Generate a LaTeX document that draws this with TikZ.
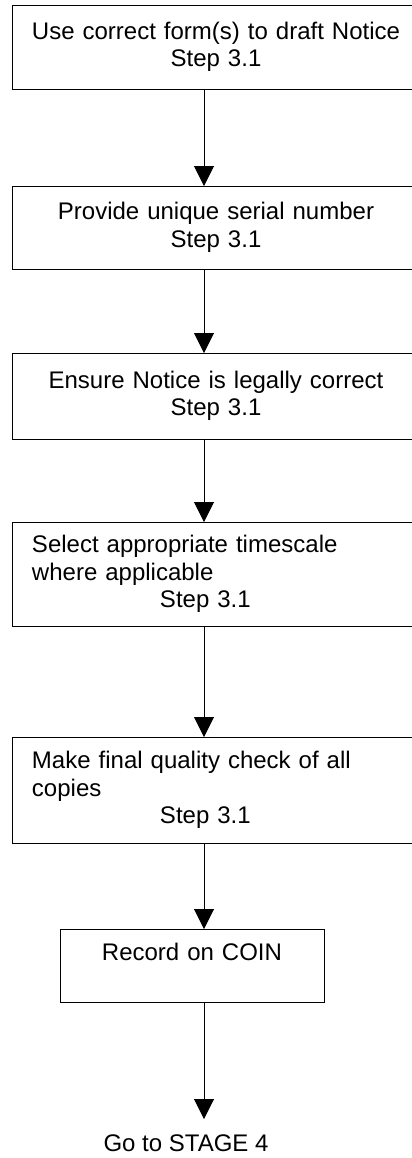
\documentclass[tikz,border=0pt]{standalone}
\usepackage{fontspec}
\setmainfont{Liberation Sans}
\usetikzlibrary{arrows.meta, positioning}

\begin{document}
\begin{tikzpicture}[font=\fontsize{12}{13.75}\selectfont,
    stepbox/.style={draw, line width=0.5pt, outer sep=0pt, minimum width=204pt, text width=192pt, inner xsep=6pt, align=center},
    leftbox/.style={stepbox, text width=184pt, inner xsep=10pt, align=left},
    flow/.style={-{Triangle[width=10pt,length=10pt]}, line width=0.5pt}]
    \useasboundingbox (0,0) rectangle (206pt,-579pt);
    \coordinate (axis) at (102pt,0);
    \node[stepbox, minimum height=42pt] (form) at (108pt,-23.5pt) {Use correct form(s) to draft Notice\\Step 3.1};
    \node[stepbox, minimum height=41.5pt, below=48.5pt of form] (serial) {Provide unique serial number\\Step 3.1};
    \node[stepbox, minimum height=43pt, below=42pt of serial] (legal) {Ensure Notice is legally correct\\Step 3.1};
    \node[leftbox, minimum height=52pt, below=41.5pt of legal] (timescale) {Select appropriate timescale\\where applicable\\\hspace*{64pt}Step 3.1};
    \node[leftbox, minimum height=53pt, below=55.5pt of timescale] (check) {Make final quality check of all\\copies\\\hspace*{64pt}Step 3.1};
    \node[stepbox, minimum width=132pt, text width=120pt, minimum height=36.5pt, below=43pt of check, xshift=-12pt] (coin) {Record on COIN\\~};
    \node[inner sep=0pt, below=66pt of coin, xshift=-3pt] (stage) {Go to STAGE 4};
    \draw[flow] (form.south -| axis) -- (serial.north -| axis);
    \draw[flow] (serial.south -| axis) -- (legal.north -| axis);
    \draw[flow] (legal.south -| axis) -- (timescale.north -| axis);
    \draw[flow] (timescale.south -| axis) -- (check.north -| axis);
    \draw[flow] (check.south -| axis) -- (coin.north -| axis);
    \draw[flow, shorten >=7.5pt] (coin.south -| axis) -- (stage.north -| axis);
\end{tikzpicture}
\end{document}
